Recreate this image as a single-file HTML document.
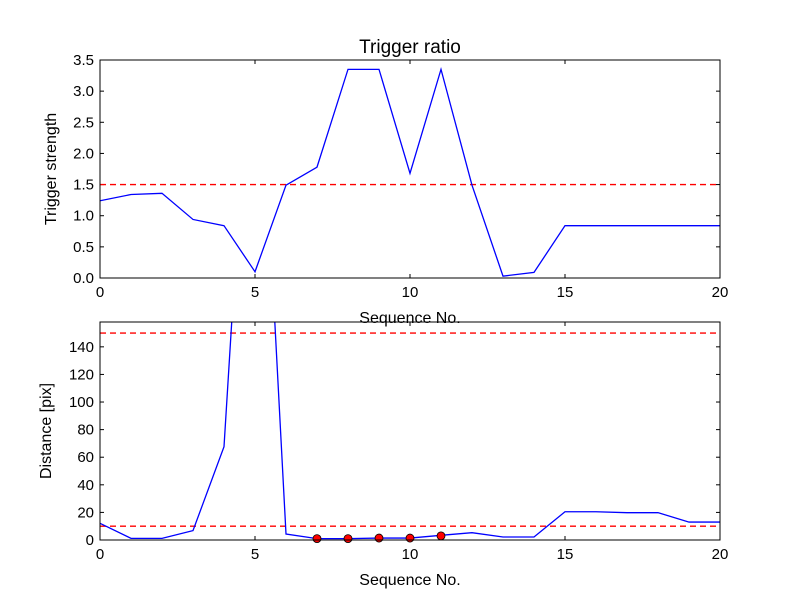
<!DOCTYPE html>
<html><head><meta charset="utf-8"><style>
body{margin:0;background:#fff}
svg text{font-family:"Liberation Sans","DejaVu Sans",sans-serif;fill:#000}
</style></head><body>
<svg id="c" width="800" height="600" xmlns="http://www.w3.org/2000/svg"></svg>
<script>
const seq = [0,1,2,3,4,5,6,7,8,9,10,11,12,13,14,15,16,17,18,19,20];
const ratio = [1.24,1.34,1.36,0.94,0.84,0.1,1.49,1.78,3.35,3.35,1.68,3.35,1.49,0.03,0.09,0.84,0.84,0.84,0.84,0.84,0.84];
const ratioThreshold = [1.5];
const dist = [12.1,1.2,1.2,6.8,67.6,430,4.3,1,1,1.4,1.4,3.4,5.3,2.2,2.2,20.5,20.5,19.8,19.8,13,13];
const distThresholds = [10,150];
const markerSeq = [7,8,9,10,11];
const markerDist = [1,1,1.4,1.4,3];
const xTicks = [0,5,10,15,20];
const ratioTicks = ["0.0","0.5","1.0","1.5","2.0","2.5","3.0","3.5"];
const distTicks = ["0","20","40","60","80","100","120","140"];

const NS="http://www.w3.org/2000/svg";
const svg=document.getElementById('c');
function mk(tag,attrs,parent){const e=document.createElementNS(NS,tag);for(const k in attrs)e.setAttribute(k,attrs[k]);(parent||svg).appendChild(e);return e;}

function panel(name,top,bottom,ymin,ymax,yticks,ylabel,ylabOff){
  const L=100,R=720;
  const g=mk('g',{});
  
  
  const sx=v=>L+(v-0)/(20-0)*(R-L);
  const sy=v=>bottom-(v-ymin)/(ymax-ymin)*(bottom-top);
  const clipId=name+'-clip';
  const cp=mk('clipPath',{id:clipId},g);mk('rect',{x:L,y:top,width:R-L,height:bottom-top},cp);
  xTicks.forEach(t=>{
    const x=sx(t);
    mk('line',{x1:x,y1:bottom,x2:x,y2:bottom-4,stroke:'#000'},g);
    mk('line',{x1:x,y1:top,x2:x,y2:top+4,stroke:'#000'},g);
    const tx=mk('text',{x:x,y:bottom+19,'font-size':'15','text-anchor':'middle'},g);
    tx.textContent=t;
    
    
  });
  yticks.forEach(t=>{
    const y=sy(parseFloat(t));
    mk('line',{x1:L,y1:y,x2:L+4,y2:y,stroke:'#000'},g);
    mk('line',{x1:R,y1:y,x2:R-4,y2:y,stroke:'#000'},g);
    const tx=mk('text',{x:L-6,y:y+5,'font-size':'15','text-anchor':'end'},g);
    tx.textContent=t;
    
    
  });
  const yl=mk('text',{x:0,y:0,'font-size':'16','text-anchor':'middle',transform:`translate(${L-ylabOff},${(top+bottom)/2}) rotate(-90)`},g);
  yl.textContent=ylabel;
  
  
  const xl=mk('text',{x:(L+R)/2,y:bottom+45,'font-size':'16','text-anchor':'middle'},g);
  xl.textContent='Sequence No.';
  
  
  return {g,sx,sy,clipId,L,R,top,bottom};
}

const p1=panel('top-panel',60,278,0,3.5,ratioTicks,'Trigger strength',44);
ratioThreshold.forEach(v=>{
  const l=mk('line',{x1:p1.L,x2:p1.R,y1:p1.sy(v),y2:p1.sy(v),stroke:'#f00','stroke-width':1.3,'stroke-dasharray':'6,4'},p1.g);
  
  
});
const l1=mk('polyline',{points:seq.map((s,i)=>p1.sx(s)+','+p1.sy(ratio[i])).join(' '),fill:'none',stroke:'#00f','stroke-width':1.3,'clip-path':`url(#${p1.clipId})`},p1.g);


mk('rect',{x:p1.L,y:p1.top,width:p1.R-p1.L,height:p1.bottom-p1.top,fill:'none',stroke:'#000'},p1.g);
const t1=mk('text',{x:410,y:53,'font-size':'19','text-anchor':'middle'},p1.g);
t1.textContent='Trigger ratio';



const p2=panel('bottom-panel',322,540,0,158,distTicks,'Distance [pix]',49);
distThresholds.forEach(v=>{
  const l=mk('line',{x1:p2.L,x2:p2.R,y1:p2.sy(v),y2:p2.sy(v),stroke:'#f00','stroke-width':1.3,'stroke-dasharray':'6,4'},p2.g);
  
  
});
const l2=mk('polyline',{points:seq.map((s,i)=>p2.sx(s)+','+p2.sy(dist[i])).join(' '),fill:'none',stroke:'#00f','stroke-width':1.3,'clip-path':`url(#${p2.clipId})`},p2.g);


markerSeq.forEach((s,i)=>{
  const c=mk('circle',{cx:p2.sx(s),cy:p2.sy(markerDist[i]),r:4,fill:'#f00',stroke:'#000','stroke-width':0.8},p2.g);
  
  
});
mk('rect',{x:p2.L,y:p2.top,width:p2.R-p2.L,height:p2.bottom-p2.top,fill:'none',stroke:'#000'},p2.g);
</script>
</body></html>
